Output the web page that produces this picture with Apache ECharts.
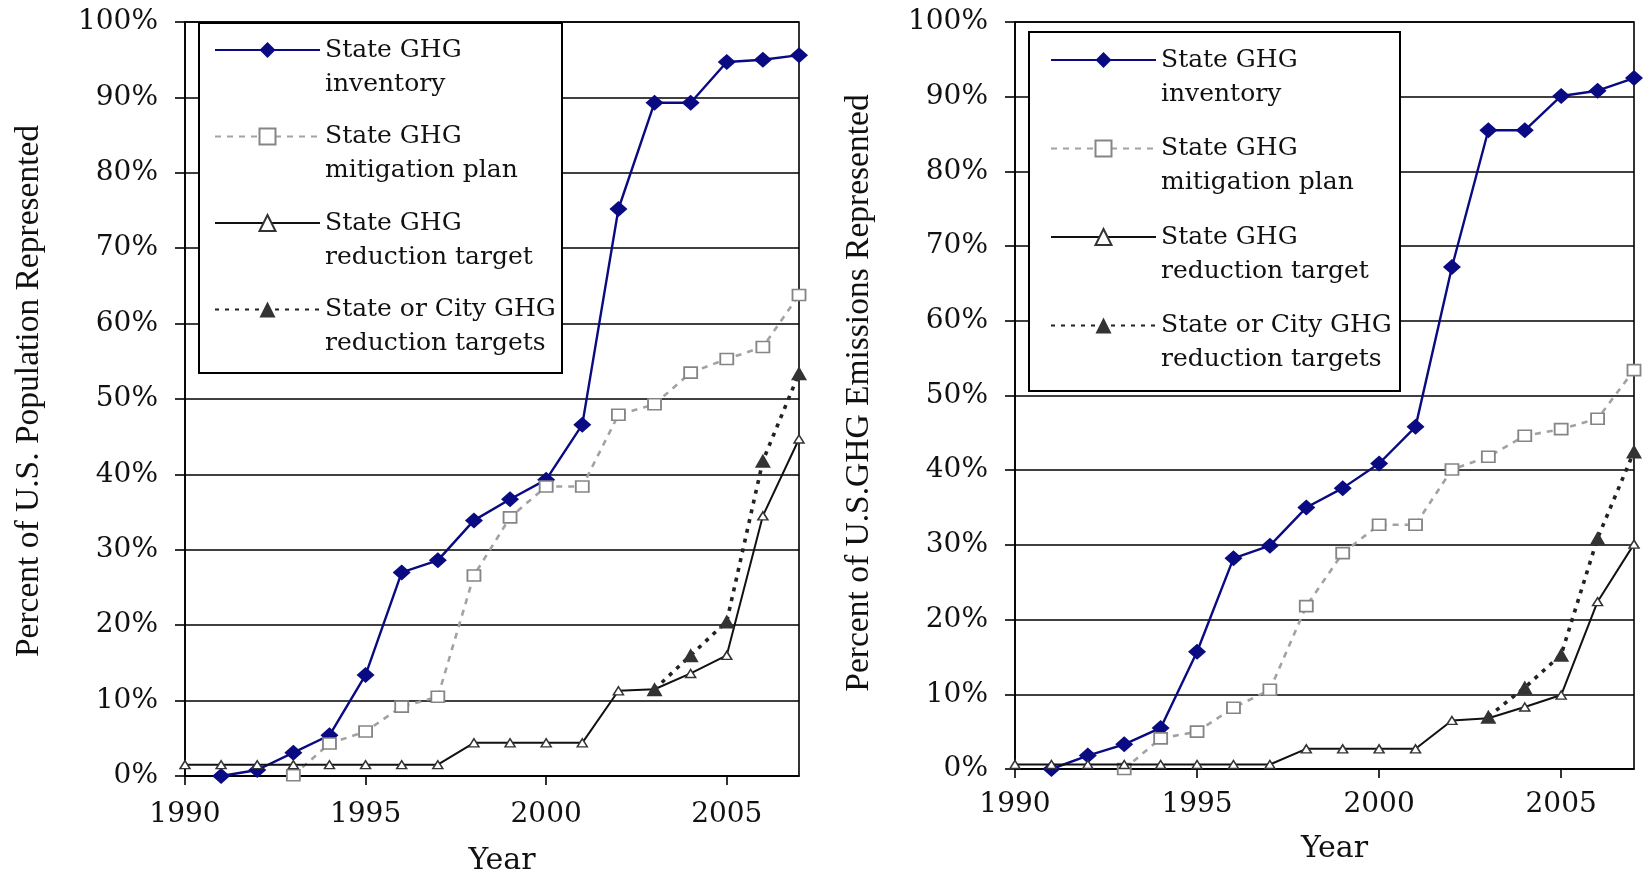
<!DOCTYPE html>
<html><head><meta charset="utf-8">
<script src="https://cdn.jsdelivr.net/npm/echarts@6/dist/echarts.min.js"></script>
<style>html,body{margin:0;padding:0;background:#fff}#c{width:1644px;height:874px}</style>
</head><body><div id="c"></div>
<script>
const years = [1990,1991,1992,1993,1994,1995,1996,1997,1998,1999,2000,2001,2002,2003,2004,2005,2006,2007];
const xTicks = [1990, 1995, 2000, 2005];

// Left chart: percent of U.S. population represented
const popInventory   = [null,0,0.8,3.1,5.4,13.4,27.0,28.6,33.9,36.7,39.3,46.6,75.2,89.3,89.3,94.7,95.0,95.6];
const popMitigation  = [null,null,null,0.1,4.3,5.9,9.2,10.5,26.6,34.3,38.4,38.4,47.9,49.3,53.5,55.3,56.9,63.8];
const popStateTarget = [1.5,1.5,1.5,1.5,1.5,1.5,1.5,1.5,4.4,4.4,4.4,4.4,11.3,11.5,13.6,16.0,34.5,44.7];
const popCityTarget  = [null,null,null,null,null,null,null,null,null,null,null,null,null,11.5,16.0,20.5,41.8,53.4];

// Right chart: percent of U.S. GHG emissions represented
const emiInventory   = [null,0,1.8,3.3,5.5,15.7,28.2,29.9,35.0,37.6,40.9,45.8,67.2,85.5,85.5,90.1,90.8,92.5];
const emiMitigation  = [null,null,null,0,4.1,5.0,8.2,10.6,21.8,28.9,32.7,32.7,40.1,41.8,44.6,45.5,46.9,53.4];
const emiStateTarget = [0.6,0.6,0.6,0.6,0.6,0.6,0.6,0.6,2.7,2.7,2.7,2.7,6.5,6.8,8.3,9.9,22.4,30.1];
const emiCityTarget  = [null,null,null,null,null,null,null,null,null,null,null,null,null,7.0,10.9,15.3,30.9,42.5];

const legendLine1 = ['State GHG','State GHG','State GHG','State or City GHG'];
const legendLine2 = ['inventory','mitigation plan','reduction target','reduction targets'];
const seriesNames = legendLine1.map((a, i) => a + ' ' + legendLine2[i]);

const yTitles = ['Percent of U.S. Population Represented', 'Percent of U.S.GHG Emissions Represented'];
const xTitle = 'Year';

function pairs(vals) {
  const out = [];
  vals.forEach((v, i) => { if (v !== null) out.push([years[i], v]); });
  return out;
}

const SERIF = 'DejaVu Serif';
const TIMES = 'Liberation Serif';

const styles = [
  { symbol: 'diamond', symbolSize: [18, 16],
    itemStyle: { color: '#0a0a82', borderColor: '#0a0a82', borderWidth: 0 },
    lineStyle: { color: '#0a0a82', width: 2.4, type: 'solid' } },
  { symbol: 'rect', symbolSize: [13, 11],
    itemStyle: { color: '#ffffff', borderColor: '#858585', borderWidth: 1.7 },
    lineStyle: { color: '#a2a2a2', width: 2.6, type: [6, 6] } },
  { symbol: 'triangle', symbolSize: [10, 8],
    itemStyle: { color: '#ffffff', borderColor: '#333333', borderWidth: 1.5 },
    lineStyle: { color: '#111111', width: 2, type: 'solid' } },
  { symbol: 'triangle', symbolSize: [16, 14],
    itemStyle: { color: '#333333', borderColor: '#333333', borderWidth: 0 },
    lineStyle: { color: '#222222', width: 3.6, type: [4, 6] } }
];

function makeSeries(idx, valsList) {
  return valsList.map((vals, k) => Object.assign({
    type: 'line', name: seriesNames[k], xAxisIndex: idx, yAxisIndex: idx,
    data: pairs(vals), showAllSymbol: true, animation: false, z: 2 + k * 0.1
  }, styles[k]));
}

function xAxis(idx, labelMargin, nameGap) {
  return {
    type: 'value', gridIndex: idx, min: 1990, max: 2007, interval: 5,
    name: xTitle, nameLocation: 'middle', nameGap: nameGap,
    nameTextStyle: { fontFamily: SERIF, fontSize: 30, color: '#111', padding: [0, 0, 0, 20] },
    axisLine: { show: true, lineStyle: { color: '#000', width: 1.6 } },
    axisTick: { show: true, length: 9, lineStyle: { color: '#000', width: 1.6 } },
    axisLabel: { fontFamily: SERIF, fontSize: 28, color: '#111', margin: labelMargin, showMaxLabel: false,
      formatter: v => (xTicks.indexOf(v) >= 0 ? String(v) : '') },
    splitLine: { show: false }
  };
}

function yAxis(idx, padTop) {
  return {
    type: 'value', gridIndex: idx, min: 0, max: 100, interval: 10,
    name: yTitles[idx], nameLocation: 'middle', nameGap: 139, nameRotate: 90,
    nameTextStyle: { fontFamily: TIMES, fontSize: 33.5, color: '#111', padding: [0, 0, 0, padTop] },
    axisLine: { show: true, lineStyle: { color: '#000', width: 1.6 } },
    axisTick: { show: true, length: 10, lineStyle: { color: '#000', width: 1.6 } },
    axisLabel: { fontFamily: SERIF, fontSize: 28, color: '#111', margin: 27, formatter: '{value}%' },
    splitLine: { show: true, lineStyle: { color: '#000', width: 1.6 } }
  };
}

function legend(left, top, gap) {
  return {
    orient: 'vertical', left: left, top: top, padding: 0, itemGap: gap,
    itemWidth: 105, itemHeight: 20, z: 5, selectedMode: false,
    data: seriesNames,
    formatter: name => {
      const i = seriesNames.indexOf(name);
      return '{e| }\n{a|' + legendLine1[i] + '}\n{b|' + legendLine2[i] + '}';
    },
    textStyle: {
      fontFamily: SERIF, fontSize: 25, color: '#111',
      rich: {
        e: { fontSize: 10, lineHeight: 17 },
        a: { fontFamily: SERIF, fontSize: 25, lineHeight: 51, color: '#111' },
        b: { fontFamily: SERIF, fontSize: 25, lineHeight: 17, color: '#111' }
      }
    }
  };
}

const chart = echarts.init(document.getElementById('c'), null, { renderer: 'canvas' });
chart.setOption({
  backgroundColor: '#ffffff',
  animation: false,
  grid: [
    { left: 185, top: 22, width: 614, height: 754, show: true, borderColor: '#000', borderWidth: 1.6,
      backgroundColor: 'transparent', containLabel: false, outerBoundsMode: 'none' },
    { left: 1015, top: 22, width: 619, height: 747, show: true, borderColor: '#000', borderWidth: 1.6,
      backgroundColor: 'transparent', containLabel: false, outerBoundsMode: 'none' }
  ],
  xAxis: [xAxis(0, 25, 70), xAxis(1, 22, 65)],
  yAxis: [yAxis(0, 16), yAxis(1, 5)],
  legend: [legend(214, 11, 1), legend(1050, 21, 3)],
  graphic: [
    { type: 'rect', z: 3, shape: { x: 199, y: 23, width: 363, height: 350 }, style: { fill: '#fff', stroke: '#000', lineWidth: 2 } },
    { type: 'rect', z: 3, shape: { x: 1029, y: 32, width: 371, height: 359 }, style: { fill: '#fff', stroke: '#000', lineWidth: 2 } }
  ],
  series: [].concat(
    makeSeries(0, [popInventory, popMitigation, popStateTarget, popCityTarget]),
    makeSeries(1, [emiInventory, emiMitigation, emiStateTarget, emiCityTarget])
  )
});
</script></body></html>
